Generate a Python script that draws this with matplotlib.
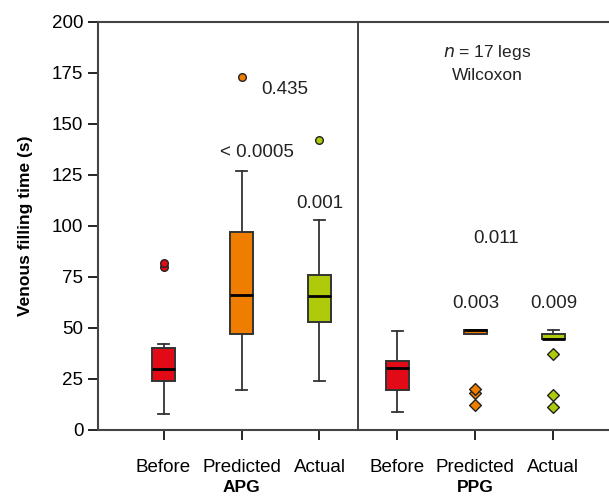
import matplotlib
matplotlib.use("Agg")
import matplotlib.pyplot as plt

# --- données ---
positions = [1, 2, 3, 4, 5, 6]
categories = ["Before", "Predicted", "Actual", "Before", "Predicted", "Actual"]
groups = ["APG", "PPG"]

whislo = [8, 19.5, 24, 9, 46.9, 44.5]
q1 = [24, 47, 53, 19.5, 46.9, 44.5]
med = [29.7, 66, 65.5, 30.2, 49.2, 44.5]
q3 = [40, 97, 76, 34, 49.2, 46.9]
whishi = [42, 127, 103, 48.5, 49.2, 49]
fliers = [[80, 82], [173], [142], [], [12, 18, 20], [11, 17, 37]]

box_colors = ["#E30A17", "#EF7D00", "#AFCA0B", "#E30A17", "#EF7D00", "#AFCA0B"]
flier_markers = ["o", "o", "o", "D", "D", "D"]

pvalues = ["0.435", "< 0.0005", "0.001", "0.011", "0.003", "0.009"]
p_x = [2.55, 2.2, 3.0, 5.27, 5.0, 6.0]
p_y = [167, 136, 111, 94, 62, 62]

plt.rcParams["font.family"] = ["Liberation Sans", "DejaVu Sans"]

fig = plt.figure(figsize=(6.09, 4.97), dpi=100)
ax = fig.add_axes([0.161, 0.135, 0.845, 0.821])

stats = []
for i in range(len(positions)):
    stats.append(dict(whislo=whislo[i], q1=q1[i], med=med[i], q3=q3[i],
                      whishi=whishi[i], fliers=[]))

bp = ax.bxp(stats, positions=positions, widths=0.3, patch_artist=True,
            showfliers=False,
            boxprops=dict(edgecolor="#333333", linewidth=1.4),
            medianprops=dict(color="black", linewidth=2),
            whiskerprops=dict(color="#333333", linewidth=1.3),
            capprops=dict(color="#333333", linewidth=1.3),
            capwidths=0.14)
for patch, c in zip(bp["boxes"], box_colors):
    patch.set_facecolor(c)

# valeurs aberrantes
for i, pts in enumerate(fliers):
    if pts:
        ax.scatter([positions[i]] * len(pts), pts, marker=flier_markers[i],
                   s=36 if flier_markers[i] == "D" else 30,
                   color=box_colors[i], edgecolors="#222222", linewidths=1,
                   zorder=5)

# p-values
for t, x, y in zip(pvalues, p_x, p_y):
    ax.text(x, y, t, ha="center", va="center", fontsize=13.5, color="#222222")

ax.text(5.15, 185, r"$n$ = 17 legs", ha="center", va="center", fontsize=12.5,
        color="#222222")
ax.text(5.15, 173.5, "Wilcoxon", ha="center", va="center", fontsize=12.5,
        color="#222222")

# séparation APG / PPG
ax.axvline(3.5, color="#333333", linewidth=1.3)

ax.set_xlim(0.16, 6.76)
ax.set_ylim(0, 200)
ax.set_yticks(range(0, 201, 25))
ax.set_xticks(positions)
ax.set_xticklabels(categories, fontsize=13.5)
ax.tick_params(axis="y", labelsize=13.5, length=7, width=1.2, direction="out")
ax.tick_params(axis="x", length=7, width=1.2, pad=14, direction="out")
for s in ["left", "bottom", "top"]:
    ax.spines[s].set_linewidth(1.5)
    ax.spines[s].set_color("#444444")
ax.spines["right"].set_visible(False)

ax.set_ylabel("Venous filling time (s)", fontsize=12.5, fontweight="bold", labelpad=14)

for g, x in zip(groups, [2, 5]):
    ax.text(x, -28, g, ha="center", va="center", fontsize=12.5, fontweight="bold",
            transform=ax.transData, clip_on=False)

fig.savefig("out.png", dpi=100)
